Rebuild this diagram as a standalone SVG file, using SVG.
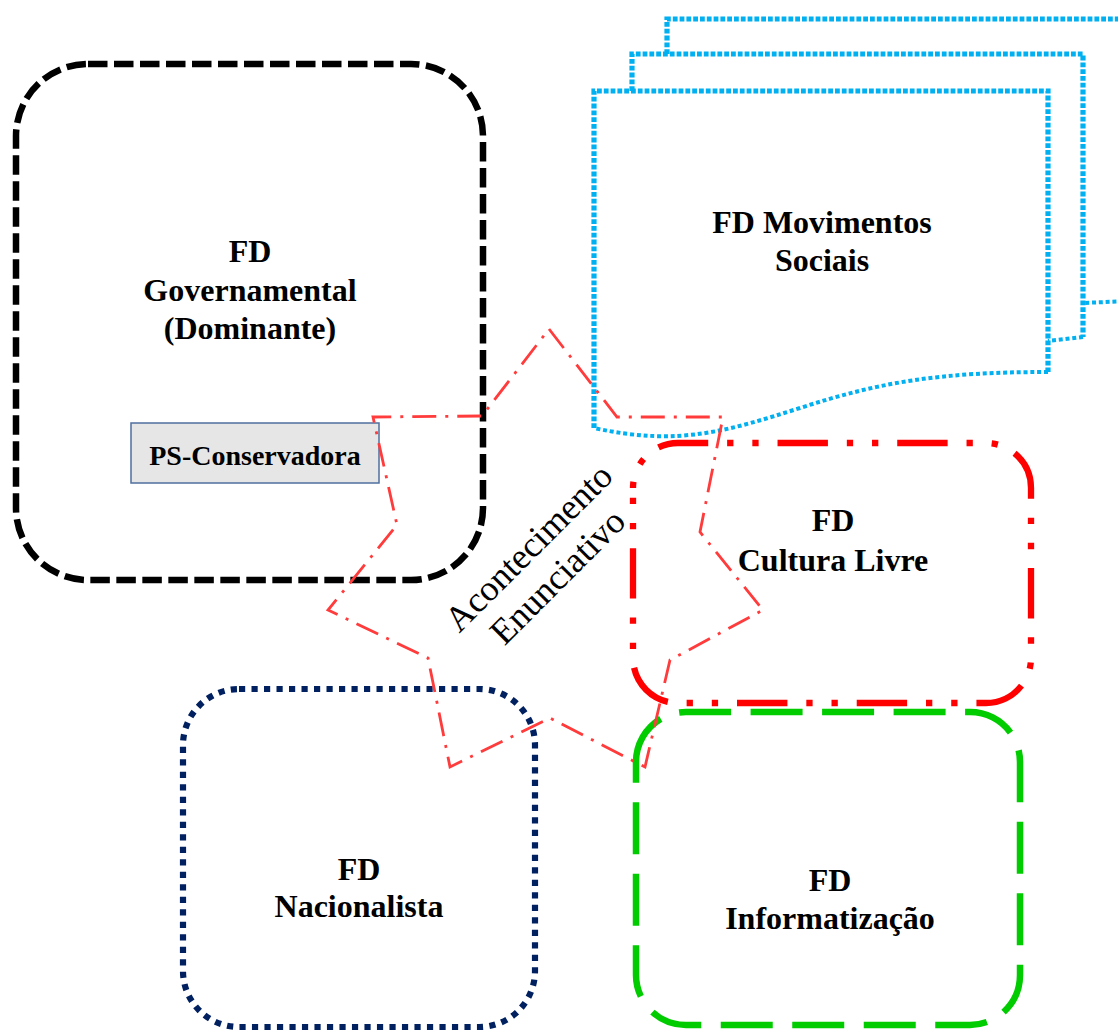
<svg xmlns="http://www.w3.org/2000/svg" width="1118" height="1030" viewBox="0 0 1118 1030">
  <style>
    .lbl { font-family: "Liberation Serif", "Times New Roman", serif; font-weight: bold; font-size: 32px; fill: #000; text-anchor: middle; }
    .ps { font-family: "Liberation Serif", "Times New Roman", serif; font-weight: bold; font-size: 28px; fill: #000; text-anchor: middle; }
    .rot { font-family: "Liberation Serif", "Times New Roman", serif; font-size: 36px; fill: #000; text-anchor: middle; }
    .blue { fill: none; stroke: #00b0f0; stroke-width: 5.2; stroke-dasharray: 4.8 2; }
    .blue-wave { fill: none; stroke: #00b0f0; stroke-width: 4; stroke-dasharray: 4 2.8; }
    .black { fill: none; stroke: #000; stroke-width: 6.5; stroke-dasharray: 19.5 6.5; }
    .red { fill: none; stroke: #ff0000; stroke-width: 6.3; stroke-dasharray: 50.4 18.9 6.3 18.9 6.3 18.9; stroke-dashoffset: 69.3; }
    .green { fill: none; stroke: #00cc00; stroke-width: 6.5; stroke-dasharray: 52 19.5; }
    .navy { fill: none; stroke: #002060; stroke-width: 6.2; stroke-dasharray: 6.2 6.3; }
    .star { fill: none; stroke: #ff3b3b; stroke-width: 2.8; stroke-dasharray: 24 9 3 9; }
  </style>

  <rect width="1118" height="1030" fill="#ffffff"/>

  <!-- FD Movimentos Sociais: stacked multi-document shape -->
  <g id="fd-movimentos-sociais">
    <path class="blue" d="M667,54 V19 H1130"/>
    <path class="blue-wave" d="M1130,301 L1083,303"/>
    <path class="blue" d="M632,91 V54 H1083 V337"/>
    <path class="blue-wave" d="M1083,337 L1048,341"/>
    <path class="blue" d="M594,428 V91 H1048 V372"/>
    <path class="blue-wave" d="M1048,372 C940,372 880,382 800,408 C730,430 680,447 594,428"/>
    <text class="lbl" x="822" y="233">FD Movimentos</text>
    <text class="lbl" x="822" y="271">Sociais</text>
  </g>

  <!-- FD Governamental (Dominante) -->
  <g id="fd-governamental">
    <rect class="black" x="16" y="64" width="467" height="516" rx="72" ry="72"/>
    <text class="lbl" x="250" y="262">FD</text>
    <text class="lbl" x="250" y="301">Governamental</text>
    <text class="lbl" x="250" y="339">(Dominante)</text>
  </g>

  <!-- PS-Conservadora -->
  <g id="ps-conservadora">
    <rect x="131" y="423" width="248" height="60" fill="#e6e6e6" stroke="#4f6f9f" stroke-width="1.5"/>
    <text class="ps" x="255" y="465">PS-Conservadora</text>
  </g>

  <!-- FD Cultura Livre -->
  <g id="fd-cultura-livre">
    <path class="red" d="M633,488 A45,45 0 0 1 678,443 H986 A45,45 0 0 1 1031,488 V658 A45,45 0 0 1 986,703 H678 A45,45 0 0 1 633,658 Z"/>
    <text class="lbl" x="833" y="531">FD</text>
    <text class="lbl" x="833" y="571">Cultura Livre</text>
  </g>

  <!-- FD Informatizacao -->
  <g id="fd-informatizacao">
    <path class="green" d="M636,762 A50,50 0 0 1 686,712 H970 A50,50 0 0 1 1020,762 V975 A50,50 0 0 1 970,1025 H686 A50,50 0 0 1 636,975 Z"/>
    <text class="lbl" x="830" y="891">FD</text>
    <text class="lbl" x="830" y="929">Informatização</text>
  </g>

  <!-- FD Nacionalista -->
  <g id="fd-nacionalista">
    <rect class="navy" x="183" y="689" width="352" height="338" rx="56" ry="56"/>
    <text class="lbl" x="359" y="880">FD</text>
    <text class="lbl" x="359" y="917">Nacionalista</text>
  </g>

  <!-- Acontecimento Enunciativo: eight-pointed star -->
  <g id="acontecimento-enunciativo">
    <path class="star" d="M549,329 L617,417 L723,417 L700,532 L763,610 L670,660 L645,767 L550,718 L450,767 L428,658 L328,610 L397,525 L373,417 L482,416 Z"/>
    <g transform="translate(537,556) rotate(-45)">
      <text class="rot" x="0" y="0">Acontecimento</text>
      <text class="rot" x="0" y="41">Enunciativo</text>
    </g>
  </g>

  <g id="connectors"/>
</svg>
